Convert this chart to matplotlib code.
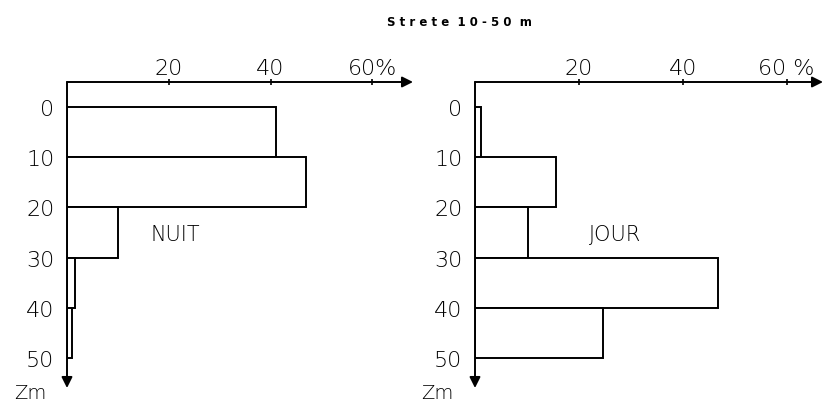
import matplotlib
matplotlib.use('Agg')
import matplotlib.pyplot as plt

# profondeur des couches (m) et pourcentages
PROF = [0, 10, 20, 30, 40]
NUIT = [41, 47, 10, 1.5, 1.0]
JOUR = [1.2, 15.5, 10.3, 46.7, 24.7]

XTICKS = [20, 40, 60]
XLAB_NUIT = ['20', '40', '60%']
XLAB_JOUR = ['20', '40', '60 %']
YTICKS = [0, 10, 20, 30, 40, 50]

plt.rcParams['font.family'] = ['DejaVu Sans']

fig = plt.figure(figsize=(8.24, 4.02), dpi=100)
fig.patch.set_facecolor('white')


def panneau(rect, vals, xmax, xlabels, nom, nom_x):
    ax = fig.add_axes(rect)
    ax.barh(PROF, vals, height=10, left=0, align='edge',
            facecolor='white', edgecolor='black', linewidth=1.4, zorder=3)
    ax.set_xlim(0, xmax)
    ax.set_ylim(56, -5)
    for s in ax.spines.values():
        s.set_visible(False)

    # axes avec fleches
    ax.annotate('', xy=(xmax, -5), xytext=(0, -5), annotation_clip=False,
                arrowprops=dict(arrowstyle='-|>', color='black', lw=1.4,
                                mutation_scale=16, shrinkA=0, shrinkB=0))
    ax.annotate('', xy=(0, 56), xytext=(0, -5), annotation_clip=False,
                arrowprops=dict(arrowstyle='-|>', color='black', lw=1.4,
                                mutation_scale=16, shrinkA=0, shrinkB=0))

    ax.xaxis.tick_top()
    ax.set_xticks(XTICKS)
    ax.set_xticklabels(xlabels, fontsize=16, fontweight='light')
    ax.tick_params(axis='x', length=0, pad=3)
    # petits reperes sur l'axe
    ax.plot(XTICKS, [-5] * len(XTICKS), '|', color='black', ms=4, mew=1.2,
            clip_on=False)

    ax.set_yticks(YTICKS)
    ax.set_yticklabels([str(v) for v in YTICKS], fontsize=16,
                       fontweight='light')
    ax.tick_params(axis='y', length=0, pad=9)

    ax.text(nom_x, 25.3, nom, fontsize=15, fontweight='light',
            ha='center', va='center')
    ax.text(-7.3, 57.9, 'Zm', fontsize=14, fontweight='light',
            ha='center', va='baseline', clip_on=False)
    return ax


panneau([67 / 824, 13 / 402, 346 / 824, 306 / 402], NUIT, 68,
        XLAB_NUIT, 'NUIT', 21.2)
panneau([475 / 824, 13 / 402, 348 / 824, 306 / 402], JOUR, 67,
        XLAB_JOUR, 'JOUR', 27)

fig.text(459 / 824, 1 - 22 / 402, 'S t r e t e  1 0 - 5 0  m',
         fontsize=8.5, fontweight='bold', ha='center', va='center')

fig.savefig('out.png', dpi=100, facecolor='white')
